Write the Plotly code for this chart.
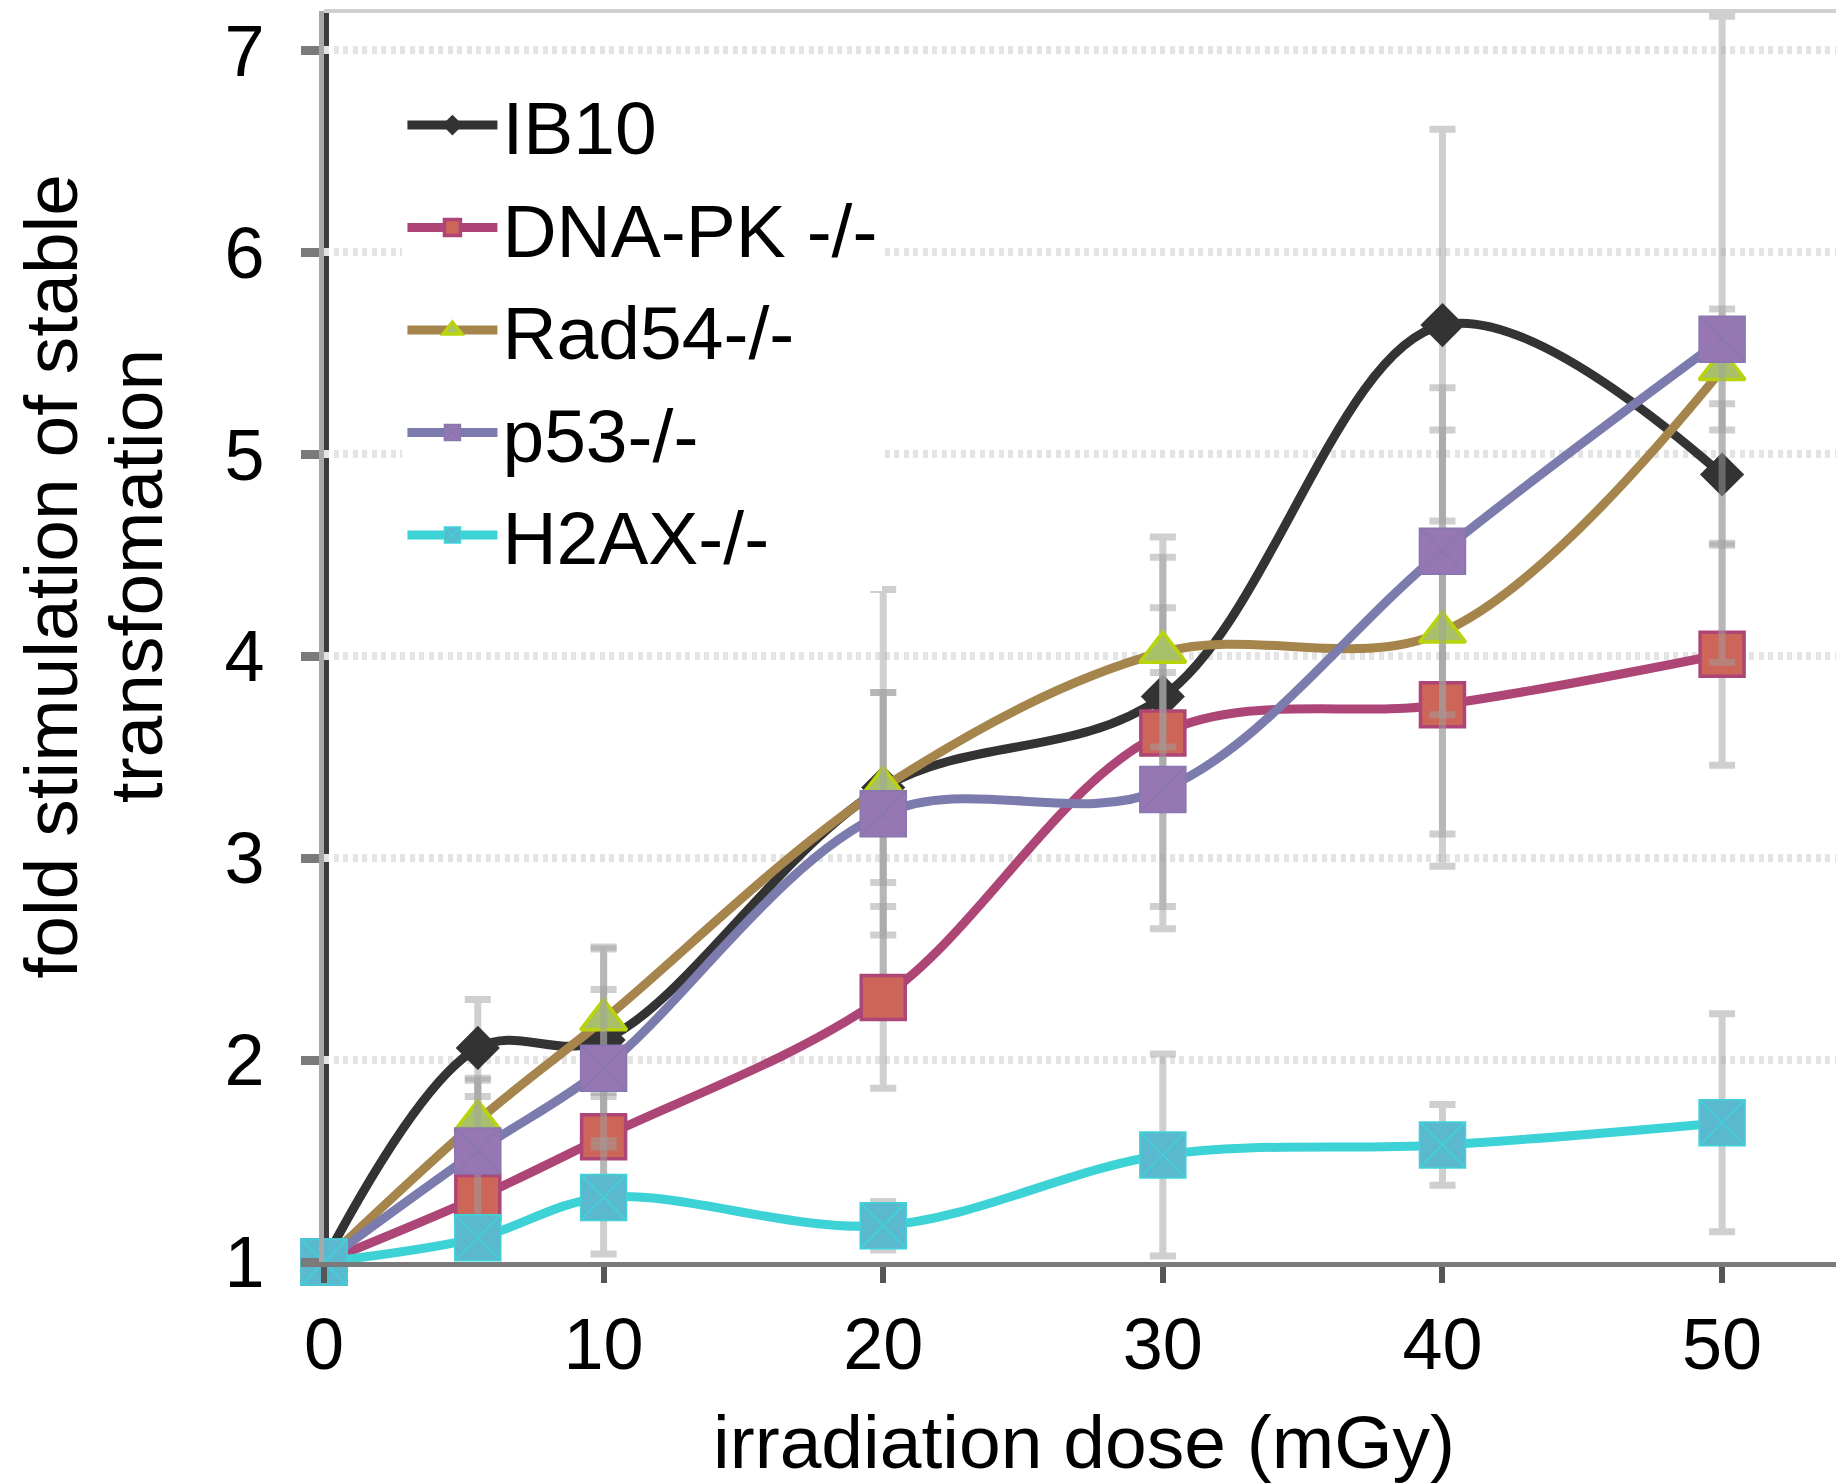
import plotly.graph_objects as go

# ---- data ----
dose = [0, 5.5, 10, 20, 30, 40, 50]

ib10 = [1.0, 2.06, 2.10, 3.35, 3.80, 5.64, 4.90]
ib10_err = [0, 0.24, 0.45, 0.98, 0.44, 0.97, 0.35]

dnapk = [1.0, 1.32, 1.62, 2.31, 3.62, 3.76, 4.01]
dnapk_err = [0, 0.10, 0.20, 0.45, 0.97, 0.80, 0.55]

rad54 = [1.0, 1.70, 2.20, 3.35, 4.02, 4.12, 5.42]
rad54_err = [0, 0.20, 0.36, 0.47, 0.47, 1.00, 0.30]

p53 = [1.0, 1.55, 1.96, 3.22, 3.34, 4.52, 5.57]
p53_err = [0, 0.36, 0.39, 0.60, 0.58, 0.81, 1.60]

h2ax = [1.0, 1.12, 1.32, 1.18, 1.53, 1.58, 1.69]
h2ax_err = [0, 0.08, 0.28, 0.12, 0.50, 0.20, 0.54]

series_names = ["IB10", "DNA-PK -/-", "Rad54-/-", "p53-/-", "H2AX-/-"]
x_ticks = [0, 10, 20, 30, 40, 50]
y_ticks = [1, 2, 3, 4, 5, 6, 7]
x_title = "irradiation dose (mGy)"
y_title_lines = ["fold stimulation of stable", "transfomation"]

FONT = "Liberation Sans, Arial, sans-serif"
ERR_COLOR = "rgba(160,160,160,0.5)"

styles = [
    dict(y=ib10, e=ib10_err, line="#333333", fill="#333333", edge="#333333",
         symbol="diamond", size=34, ew=0),
    dict(y=dnapk, e=dnapk_err, line="#ad4677", fill="#cd6559", edge="#ad4677",
         symbol="square", size=44, ew=3.5),
    dict(y=rad54, e=rad54_err, line="#a6854c", fill="#a9c06a", edge="#b9d40d",
         symbol="triangle-up", size=40, ew=3.5),
    dict(y=p53, e=p53_err, line="#7b7bae", fill="#9677b3", edge="#8877ae",
         symbol="square-x", size=46, ew=1.5),
    dict(y=h2ax, e=h2ax_err, line="#3dd3d6", fill="#5ab8cf", edge="#3fd3d8",
         symbol="square-x", size=46, ew=1.5),
]

fig = go.Figure()
for name, s in zip(series_names, styles):
    fig.add_trace(go.Scatter(
        x=dose, y=s["y"], name=name, mode="lines+markers",
        line=dict(color=s["line"], width=9, shape="spline", smoothing=1),
        marker=dict(symbol=s["symbol"], size=s["size"], color=s["fill"],
                    line=dict(color=s["edge"], width=s["ew"])),
        error_y=dict(type="data", array=s["e"], visible=True,
                     color=ERR_COLOR, thickness=7, width=13),
        cliponaxis=False,
        legendgroup=name,
    ))

# plot frame decorations: light top border, dark inner half of the y-axis line
fig.add_shape(type="line", xref="paper", yref="paper", x0=0, x1=1, y0=1, y1=1,
              line=dict(color="#d0d0d0", width=4))
fig.add_shape(type="line", xref="paper", yref="paper", xsizemode="pixel", xanchor=0,
              x0=2.5, x1=2.5, y0=0, y1=1, layer="between",
              line=dict(color="#3c3c3c", width=5))

# y-axis title (two lines)
for txt, xp in zip(y_title_lines, [-0.1795, -0.1232]):
    fig.add_annotation(
        text=txt, xref="paper", yref="paper", x=xp, y=0.548,
        xanchor="center", yanchor="middle", textangle=-90, showarrow=False,
        font=dict(family=FONT, size=75, color="black"),
    )

# page body has an 8px margin, so the figure is 8px smaller and shifted
fig.update_layout(
    template="none",
    width=1836, height=1476,
    margin=dict(l=316, r=0, t=3, b=222, autoexpand=False),
    paper_bgcolor="white", plot_bgcolor="white",
    font=dict(family=FONT, size=72, color="black"),
    showlegend=True,
    legend=dict(
        x=0.0516, y=0.953, xanchor="left", yanchor="top",
        bgcolor="white", borderwidth=0,
        font=dict(family=FONT, size=75, color="black"),
        itemwidth=90, tracegroupgap=2, itemsizing="trace",
    ),
    xaxis=dict(
        automargin=False,
        range=[0, 54.36], tickvals=x_ticks, ticktext=[str(v) for v in x_ticks],
        showgrid=False, zeroline=False,
        showline=True, linecolor="#7a7a7a", linewidth=5,
        ticks="outside", ticklen=16, tickwidth=6, tickcolor="#555555",
        ticklabelstandoff=0,
        tickfont=dict(family=FONT, size=72, color="black"),
        title=dict(text=x_title, standoff=34,
                   font=dict(family=FONT, size=75, color="black")),
    ),
    yaxis=dict(
        automargin=False,
        range=[1, 7.1955], tickvals=y_ticks, ticktext=[str(v) for v in y_ticks],
        showgrid=True, gridcolor="#e4e4e4", gridwidth=8, griddash="5px,4.5px",
        zeroline=False,
        showline=True, linecolor="#a8a8a8", linewidth=5,
        ticks="outside", ticklen=18, tickwidth=9, tickcolor="#7a7a7a",
        ticklabelstandoff=22,
        tickfont=dict(family=FONT, size=72, color="black"),
    ),
)

fig.write_html("out.html")
